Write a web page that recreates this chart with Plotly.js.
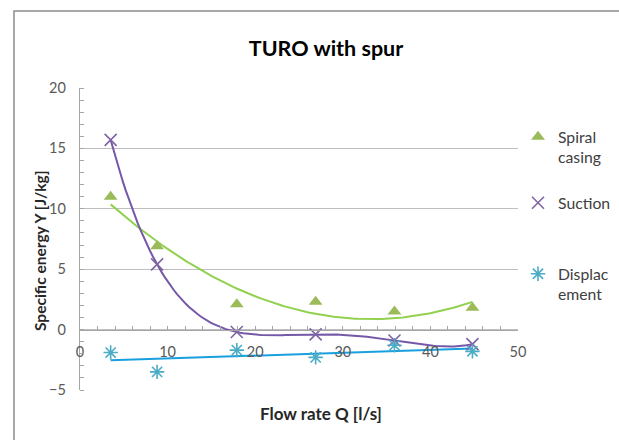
<!DOCTYPE html>
<html>
<head>
<meta charset="utf-8">
<script src="https://cdn.plot.ly/plotly-3.0.1.min.js"></script>
<style>
  html, body { margin: 0; padding: 0; background: #fff; }
  #chart { width: 619px; height: 440px; }
</style>
</head>
<body>
<div id="chart"></div>
<script>
// Flow rate Q [l/s] at each measuring point
const flowRate = [3.5, 8.8, 17.9, 26.9, 35.9, 44.8];
// Specific energy Y [J/kg] per pressure tap
const spiralCasing = [11.0, 6.9, 2.1, 2.3, 1.5, 1.8];
const suction = [15.7, 5.4, -0.2, -0.4, -0.9, -1.2];
const displacement = [-1.9, -3.5, -1.7, -2.3, -1.3, -1.8];

const seriesNames = ['Spiral<br>casing', 'Suction', 'Displac<br>ement'];
const xTickValues = [0, 10, 20, 30, 40, 50];
const yTickValues = [-5, 0, 5, 10, 15, 20];

// Least-squares polynomial trendline (same idea as a spreadsheet trendline)
function polyFit(xs, ys, order) {
  const n = xs.length;
  const mx = xs.reduce((a, b) => a + b, 0) / n;
  const sx = Math.max(...xs.map(v => Math.abs(v - mx))) || 1;
  const t = xs.map(v => (v - mx) / sx);
  const m = order + 1;
  const A = [];
  for (let i = 0; i < m; i++) {
    A.push(new Array(m + 1).fill(0));
    for (let j = 0; j < m; j++) {
      A[i][j] = t.reduce((s, tv) => s + Math.pow(tv, i + j), 0);
    }
    A[i][m] = t.reduce((s, tv, k) => s + ys[k] * Math.pow(tv, i), 0);
  }
  for (let c = 0; c < m; c++) {
    let p = c;
    for (let r = c + 1; r < m; r++) if (Math.abs(A[r][c]) > Math.abs(A[p][c])) p = r;
    [A[c], A[p]] = [A[p], A[c]];
    for (let r = 0; r < m; r++) {
      if (r === c) continue;
      const f = A[r][c] / A[c][c];
      for (let k = c; k <= m; k++) A[r][k] -= f * A[c][k];
    }
  }
  const coef = A.map((row, i) => row[m] / row[i]);
  return x => {
    const tv = (x - mx) / sx;
    return coef.reduce((s, c, i) => s + c * Math.pow(tv, i), 0);
  };
}

function trendline(xs, ys, order) {
  const f = polyFit(xs, ys, order);
  const lo = Math.min(...xs), hi = Math.max(...xs);
  const steps = 120;
  const tx = [], ty = [];
  for (let i = 0; i <= steps; i++) {
    const x = lo + (hi - lo) * i / steps;
    tx.push(x);
    ty.push(f(x));
  }
  return { x: tx, y: ty };
}

const colors = {
  spiral: '#9bbb59', spiralTrend: '#92d050',
  suction: '#8064a2', suctionTrend: '#7559a8',
  displacement: '#4bacc6', displacementTrend: '#1a9fdf'
};

const spiralTrend = trendline(flowRate, spiralCasing, 2);
const suctionTrend = trendline(flowRate, suction, 4);
const displacementTrend = trendline(flowRate, displacement, 1);

const traces = [
  { x: spiralTrend.x, y: spiralTrend.y, mode: 'lines', showlegend: false, hoverinfo: 'skip',
    line: { color: colors.spiralTrend, width: 2 } },
  { x: suctionTrend.x, y: suctionTrend.y, mode: 'lines', showlegend: false, hoverinfo: 'skip',
    line: { color: colors.suctionTrend, width: 2 } },
  { x: displacementTrend.x, y: displacementTrend.y, mode: 'lines', showlegend: false, hoverinfo: 'skip',
    line: { color: colors.displacementTrend, width: 2 } },
  { x: flowRate, y: spiralCasing, name: seriesNames[0], mode: 'markers', legend: 'legend',
    marker: { symbol: 'triangle-up', size: 12, color: colors.spiral } },
  { x: flowRate, y: suction, name: seriesNames[1], mode: 'markers', legend: 'legend2',
    marker: { symbol: 'x-thin-open', size: 12, color: colors.suction, line: { color: colors.suction, width: 1.6 } } },
  { x: flowRate, y: displacement, name: seriesNames[2], mode: 'markers', legend: 'legend3',
    marker: { symbol: 'asterisk-open', size: 12, color: colors.displacement, line: { color: colors.displacement, width: 1.6 } } }
];

// plot area geometry in pixels
const W = 619, H = 440;
const M = { l: 80, r: 101, t: 88, b: 50, autoexpand: false };
const plotW = W - M.l - M.r, plotH = H - M.t - M.b;
const yMin = -5, yMax = 20;
const px2paperX = px => (px - M.l) / plotW;
const px2paperY = py => (H - M.b - py) / plotH;

const baseFont = 'Lato, "Open Sans", sans-serif';
const legendBase = {
  xanchor: 'left', yanchor: 'top', valign: 'top',
  font: { family: baseFont, size: 15.75, color: '#404040' },
  bgcolor: 'rgba(0,0,0,0)', borderwidth: 0, itemclick: false
};
const axisTitleFont = { family: baseFont, size: 17, color: '#262626' };

const layout = {
  width: W, height: H,
  margin: M,
  paper_bgcolor: '#ffffff', plot_bgcolor: '#ffffff',
  font: { family: baseFont, color: '#595959' },
  title: {
    text: '<b>TURO with spur</b>',
    font: { family: baseFont, size: 21.5, color: '#000000' },
    xref: 'container', x: 326 / W, xanchor: 'center',
    yref: 'container', y: 1 - 48 / H, yanchor: 'middle'
  },
  xaxis: {
    range: [0, 50], tickvals: xTickValues,
    anchor: 'free', position: (0 - yMin) / (yMax - yMin),
    showline: true, linecolor: '#a6a6a6', linewidth: 1.3,
    showgrid: false, zeroline: false,
    ticks: 'inside', ticklen: 4, tickcolor: '#a6a6a6',
    minor: { dtick: 2, ticks: 'inside', ticklen: 4, tickcolor: '#a6a6a6' },
    ticklabelstandoff: 9,
    tickfont: { family: baseFont, size: 14.5, color: '#595959' }
  },
  yaxis: {
    range: [yMin, yMax], tickvals: yTickValues,
    showline: true, linecolor: '#a6a6a6', linewidth: 1.3,
    showgrid: true, gridcolor: '#bfbfbf', gridwidth: 1.3, zeroline: false,
    ticks: '', minor: { dtick: 1, ticks: 'inside', ticklen: 4, tickcolor: '#a6a6a6', showgrid: false },
    ticklabelstandoff: 10,
    tickfont: { family: baseFont, size: 14.5, color: '#595959' }
  },
  annotations: [
    { text: '<b>Flow rate Q [l/s]</b>', xref: 'paper', yref: 'paper',
      x: px2paperX(321), y: px2paperY(413), xanchor: 'center', yanchor: 'middle',
      showarrow: false, font: axisTitleFont },
    { text: '<b>Specific energy Y [J/kg]</b>', xref: 'paper', yref: 'paper', textangle: -90,
      x: px2paperX(40), y: px2paperY(251), xanchor: 'center', yanchor: 'middle',
      showarrow: false, font: Object.assign({}, axisTitleFont, { size: 15.5 }) }
  ],
  legend: Object.assign({}, legendBase, { x: px2paperX(518), y: px2paperY(120) }),
  legend2: Object.assign({}, legendBase, { x: px2paperX(518), y: px2paperY(186) }),
  legend3: Object.assign({}, legendBase, { x: px2paperX(518), y: px2paperY(257) }),
  shapes: [{
    type: 'rect', xref: 'paper', yref: 'paper',
    x0: px2paperX(14), y0: px2paperY(11), x1: px2paperX(W + 20), y1: px2paperY(H + 20),
    line: { color: '#8c8c8c', width: 1.5 }, fillcolor: 'rgba(0,0,0,0)'
  }],
  showlegend: true
};

Plotly.newPlot('chart', traces, layout, { staticPlot: true, displayModeBar: false });
</script>
</body>
</html>
